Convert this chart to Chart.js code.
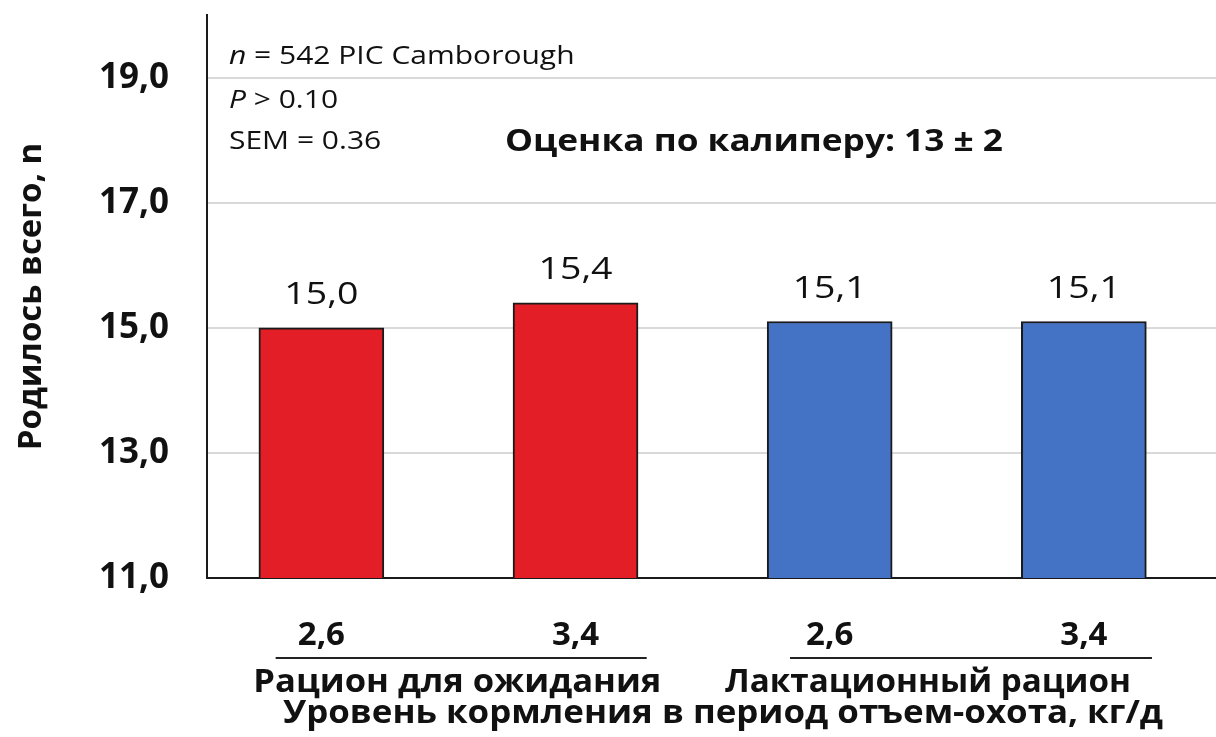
<!DOCTYPE html>
<html>
<head>
<meta charset="utf-8">
<script src="https://cdn.jsdelivr.net/npm/chart.js@4"></script>
<style>
  html, body { margin: 0; padding: 0; background: #fff; }
  #wrap { width: 1216px; height: 737px; }
</style>
</head>
<body>
<div id="wrap"><canvas id="chart"></canvas></div>
<script>
// Data
const feedLevels = ['2,6', '3,4', '2,6', '3,4'];
const bornTotal = [15.0, 15.4, 15.1, 15.1];
const barColors = ['#e41e26', '#e41e26', '#4472c4', '#4472c4'];
const groupNames = ['Рацион для ожидания', 'Лактационный рацион'];
const yTicks = [11, 13, 15, 17, 19];
const xTitle = 'Уровень кормления в период отъем-охота, кг/д';
const yTitle = 'Родилось всего, n';
const notes = ['542 PIC Camborough', '0.10', '0.36'];
const caliper = 'Оценка по калиперу: 13 ± 2';

const FONT = '"Open Sans", "DejaVu Sans", sans-serif';
const comma = v => v.toFixed(1).replace('.', ',');

// draw text squeezed/stretched horizontally to a given width
function fitText(ctx, text, x, y, width, align) {
    const w = ctx.measureText(text).width;
    const sx = width / w;
    ctx.save();
    ctx.textAlign = 'left';
    let left = x;
    if (align === 'center') left = x - width / 2;
    ctx.translate(left, y);
    ctx.scale(sx, 1);
    ctx.fillText(text, 0, 0);
    ctx.restore();
}

// value labels above the bars
const barLabels = {
    id: 'barLabels',
    afterDatasetsDraw(chart) {
        const ctx = chart.ctx;
        const meta = chart.getDatasetMeta(0);
        ctx.save();
        ctx.font = '31px ' + FONT;
        ctx.fillStyle = '#111';
        ctx.textBaseline = 'bottom';
        meta.data.forEach((bar, i) => {
            fitText(ctx, comma(bornTotal[i]), bar.x, bar.y - 17, 74, 'center');
        });
        ctx.restore();
    }
};

// notes, group brackets and bottom title
const extras = {
    id: 'extras',
    afterDraw(chart) {
        const ctx = chart.ctx;
        const xs = chart.scales.x;
        ctx.save();
        ctx.fillStyle = '#111';
        ctx.textBaseline = 'middle';
        ctx.textAlign = 'left';

        // statistics in the top left corner (slightly widened like the original)
        ctx.save();
        ctx.translate(229, 0);
        ctx.scale(1.2, 1);
        let x = 0;
        ctx.font = 'italic 25px ' + FONT;
        ctx.fillText('n', x, 57);
        x += ctx.measureText('n').width;
        ctx.font = '25px ' + FONT;
        ctx.fillText(' = ' + notes[0], x, 57);

        x = 0;
        ctx.font = 'italic 25px ' + FONT;
        ctx.fillText('P', x, 101);
        x += ctx.measureText('P').width;
        ctx.font = '25px ' + FONT;
        ctx.fillText(' > ' + notes[1], x, 101);

        ctx.fillText('SEM = ' + notes[2], 0, 142);
        ctx.restore();

        ctx.font = 'bold 30px ' + FONT;
        fitText(ctx, caliper, 505, 142, 498, 'left');

        // group lines
        ctx.strokeStyle = '#222';
        ctx.lineWidth = 2;
        const spans = [[-0.18, 1.28], [1.844, 3.268]];
        spans.forEach(s => {
            ctx.beginPath();
            ctx.moveTo(xs.getPixelForValue(s[0]), 658);
            ctx.lineTo(xs.getPixelForValue(s[1]), 658);
            ctx.stroke();
        });

        // group names
        ctx.font = 'bold 32px ' + FONT;
        fitText(ctx, groupNames[0], xs.getPixelForValue(0.535), 683, 408, 'center');
        fitText(ctx, groupNames[1], xs.getPixelForValue(2.387), 683, 406, 'center');

        // axis title
        fitText(ctx, xTitle, 723, 714, 880, 'center');
        ctx.restore();
    }
};

new Chart(document.getElementById('chart'), {
    type: 'bar',
    data: {
        datasets: [{
            data: bornTotal.map((v, i) => ({ x: i, y: v })),
            backgroundColor: barColors,
            borderColor: '#1a1a1a',
            borderWidth: 2,
            barThickness: 125
        }]
    },
    options: {
        responsive: true,
        maintainAspectRatio: false,
        animation: false,
        layout: { padding: { top: 15, right: 0, bottom: 0, left: 0 } },
        plugins: {
            legend: { display: false },
            tooltip: { enabled: false }
        },
        scales: {
            x: {
                type: 'linear',
                offset: false,
                min: -0.45,
                max: 3.52,
                afterBuildTicks: scale => {
                    scale.ticks = feedLevels.map((_, i) => ({ value: i }));
                },
                afterFit: scale => {
                    scale.height = 159;
                    scale.paddingLeft = 0;
                    scale.paddingRight = 0;
                },
                grid: { display: false },
                border: { color: '#1a1a1a', width: 2 },
                ticks: {
                    autoSkip: false,
                    maxRotation: 0,
                    padding: 30,
                    color: '#111',
                    font: { family: FONT, size: 33, weight: 'bold' },
                    callback: (v, i) => feedLevels[i]
                }
            },
            y: {
                min: 11,
                max: 20,
                afterBuildTicks: scale => {
                    scale.ticks = yTicks.map(v => ({ value: v }));
                },
                afterFit: scale => {
                    scale.width = 207;
                    scale.paddingTop = 0;
                    scale.paddingBottom = 0;
                },
                grid: { color: '#d9d9d9', lineWidth: 2, drawTicks: false },
                border: { color: '#1a1a1a', width: 2 },
                ticks: {
                    padding: 38,
                    color: '#111',
                    font: { family: FONT, size: 35, weight: 'bold' },
                    callback: v => comma(v)
                },
                title: {
                    display: true,
                    text: yTitle,
                    color: '#111',
                    padding: { top: 12, bottom: 0 },
                    font: { family: FONT, size: 33, weight: 'bold' }
                }
            }
        }
    },
    plugins: [barLabels, extras]
});
</script>
</body>
</html>
